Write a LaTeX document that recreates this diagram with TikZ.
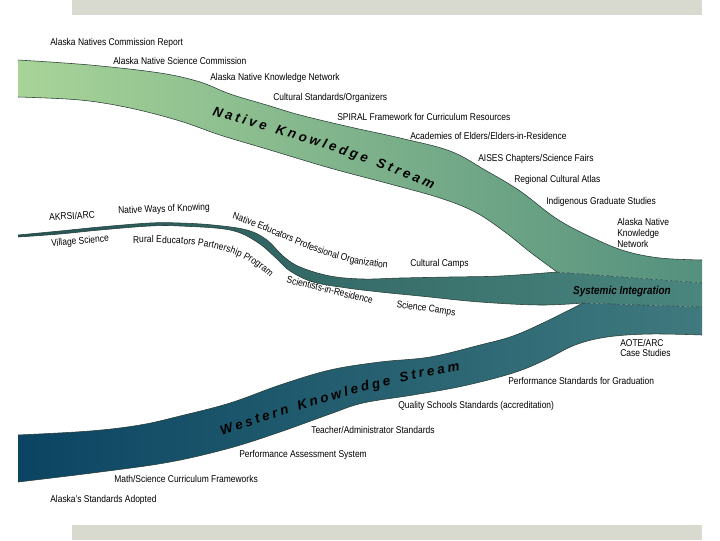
\documentclass[tikz,border=0pt]{standalone}
\usepackage{fontspec}
\setmainfont{Liberation Sans}[FakeStretch=0.86]
\newfontfamily\streamfont{Liberation Sans}
\usepackage{xcolor}
\usetikzlibrary{decorations.text}

\definecolor{barGrey}{RGB}{216,218,208}
\definecolor{nkLeft}{RGB}{168,212,152}
\definecolor{nkRight}{RGB}{84,144,126}
\definecolor{midLeft}{RGB}{36,84,86}
\definecolor{midRight}{RGB}{74,134,126}
\definecolor{wkLeft}{RGB}{10,68,98}
\definecolor{wkRight}{RGB}{64,122,126}
\definecolor{edgeDark}{RGB}{40,62,54}

\newcommand\lblstyle{\fontsize{7}{7.5}\selectfont}
\newcommand\streamstyle{\streamfont\fontsize{9.5}{11}\selectfont\bfseries\itshape}

% stream edges (bottom edges run right to left)
\newcommand\nkTop{plot[smooth, tension=0.6] coordinates {(18,-60) (90,-65) (160,-73) (200,-82) (230,-94) (270,-106) (300,-115) (350,-127) (400,-138) (450,-151) (485,-170) (520,-191) (557,-219) (593,-238) (625,-251) (660,-258) (702,-260)}}
\newcommand\nkBottom{-- plot[smooth, tension=0.6] coordinates {(557,-272) (530,-252) (505,-232) (475,-212) (440,-198) (390,-184) (330,-168) (270,-150) (220,-135) (180,-121) (130,-108) (80,-100) (18,-97)}}
\newcommand\midTop{plot[smooth, tension=0.6] coordinates {(18,-235) (60,-231) (100,-227) (150,-223) (180,-223) (213,-225) (247,-230) (267,-240) (283,-256) (300,-267) (330,-276) (363,-279) (400,-278) (450,-277) (500,-276) (557,-272)}}
\newcommand\midBottom{-- plot[smooth, tension=0.6] coordinates {(583,-303) (540,-305) (480,-302) (420,-296) (380,-292) (347,-288) (313,-282) (290,-271) (277,-259) (257,-242) (230,-230) (180,-226) (150,-226) (100,-230) (60,-234) (18,-237)}}
\newcommand\wkTop{plot[smooth, tension=0.6] coordinates {(18,-435) (90,-431) (140,-425) (180,-416) (230,-403) (280,-385) (330,-370) (380,-362) (430,-357) (480,-345) (513,-336) (545,-322) (583,-303)}}
\newcommand\wkBottom{-- plot[smooth, tension=0.6] coordinates {(702,-335) (650,-334) (607,-337) (575,-345) (545,-360) (513,-373) (463,-386) (413,-395) (363,-403) (330,-414) (280,-432) (230,-448) (170,-462) (100,-472) (18,-482)}}

\begin{document}
\begin{tikzpicture}[
        x=0.025cm, y=0.025cm,
        every node/.style={font=\lblstyle, inner sep=0pt},
        lbl/.style={anchor=west},
        edge/.style={draw=edgeDark, line width=0.4pt},
        seam/.style={draw=edgeDark, line width=0.3pt, dash pattern=on 2pt off 1.5pt},
        streamtext/.style={decorate, decoration={text along path, text align={fit to path}, text={#1}}}
        ]
        \useasboundingbox (0,0) rectangle (720,-540);

        % slide bars
        \fill[barGrey] (72,0) rectangle (702,-15);
        \fill[barGrey] (72,-525) rectangle (702,-540);

        % streams
        \shade[left color=nkLeft, right color=nkRight] \nkTop -- (702,-283) \nkBottom -- cycle;
        \shade[left color=midLeft, right color=midRight] \midTop -- (702,-283) -- (702,-307) \midBottom -- cycle;
        \shade[left color=wkLeft, right color=wkRight] \wkTop -- (702,-307) -- (702,-335) \wkBottom -- cycle;

        \draw[edge] \nkTop;
        \draw[edge] (557,-272) \nkBottom;
        \draw[edge] \midTop;
        \draw[edge] (583,-303) \midBottom;
        \draw[edge] \wkTop;
        \draw[edge] (702,-335) \wkBottom;

        \coordinate (jNat) at (557,-272);
        \coordinate (jWes) at (583,-303);
        \coordinate (eNat) at (702,-283);
        \coordinate (eWes) at (702,-307);
        \draw[seam] (jNat) -- (eNat);
        \draw[seam] (jWes) -- (eWes);

        % stream names
        \path[streamtext={|\streamstyle|Native Knowledge Stream}] (212,-115) .. controls (290,-137) and (370,-161) .. (432,-189);
        \path[streamtext={|\streamstyle|Western Knowledge Stream}] (222,-436) .. controls (290,-411) and (380,-384) .. (460,-370);
        \node[font=\fontsize{8.2}{9}\selectfont\bfseries\itshape] (sysInt) at (622,-292) {Systemic Integration};

        % native stream labels
        \node[lbl] (anCom) at (50,-43) {Alaska Natives Commission Report};
        \node[lbl] (ansCom) at (113,-61) {Alaska Native Science Commission};
        \node[lbl] (ankNet) at (210,-78) {Alaska Native Knowledge Network};
        \node[lbl] (culStd) at (273,-98) {Cultural Standards/Organizers};
        \node[lbl] (spiral) at (337,-117) {SPIRAL Framework for Curriculum Resources};
        \node[lbl] (elders) at (410,-136) {Academies of Elders/Elders-in-Residence};
        \node[lbl] (aises) at (478,-159) {AISES Chapters/Science Fairs};
        \node[lbl] (atlas) at (514,-180) {Regional Cultural Atlas};
        \node[lbl] (indGrad) at (546,-202) {Indigenous Graduate Studies};
        \node[lbl, align=left] (ankNet2) at (617,-233) {Alaska Native\\Knowledge\\Network};

        % middle stream labels
        \node[lbl, rotate=3] (akrsi) at (49,-217) {AKRSI/ARC};
        \node[lbl, rotate=2] (nwok) at (118,-211) {Native Ways of Knowing};
        \node[lbl, rotate=5] (vilSci) at (51,-244) {Village Science};
        \path[streamtext={|\lblstyle|Rural Educators Partnership Program}] (133,-243) .. controls (205,-242) and (238,-248) .. (270,-277);
        \path[streamtext={|\lblstyle|Native Educators Professional Organization}] (232,-219) .. controls (282,-234) and (318,-262) .. (387,-268);
        \node[lbl] (culCamp) at (410,-264) {Cultural Camps};
        \node[rotate=-14] (sciRes) at (330,-290) {Scientists-in-Residence};
        \node[rotate=-8] (sciCamp) at (426,-309) {Science Camps};

        % western stream labels
        \node[lbl, align=left] (aote) at (620,-348) {AOTE/ARC\\Case Studies};
        \node[lbl] (perfGrad) at (508,-381) {Performance Standards for Graduation};
        \node[lbl] (qualSch) at (398,-406) {Quality Schools Standards (accreditation)};
        \node[lbl] (teachStd) at (311,-430) {Teacher/Administrator Standards};
        \node[lbl] (perfAss) at (239,-455) {Performance Assessment System};
        \node[lbl] (mathSci) at (114,-479) {Math/Science Curriculum Frameworks};
        \node[lbl] (akStd) at (50,-500) {Alaska's Standards Adopted};
    \end{tikzpicture}
\end{document}
